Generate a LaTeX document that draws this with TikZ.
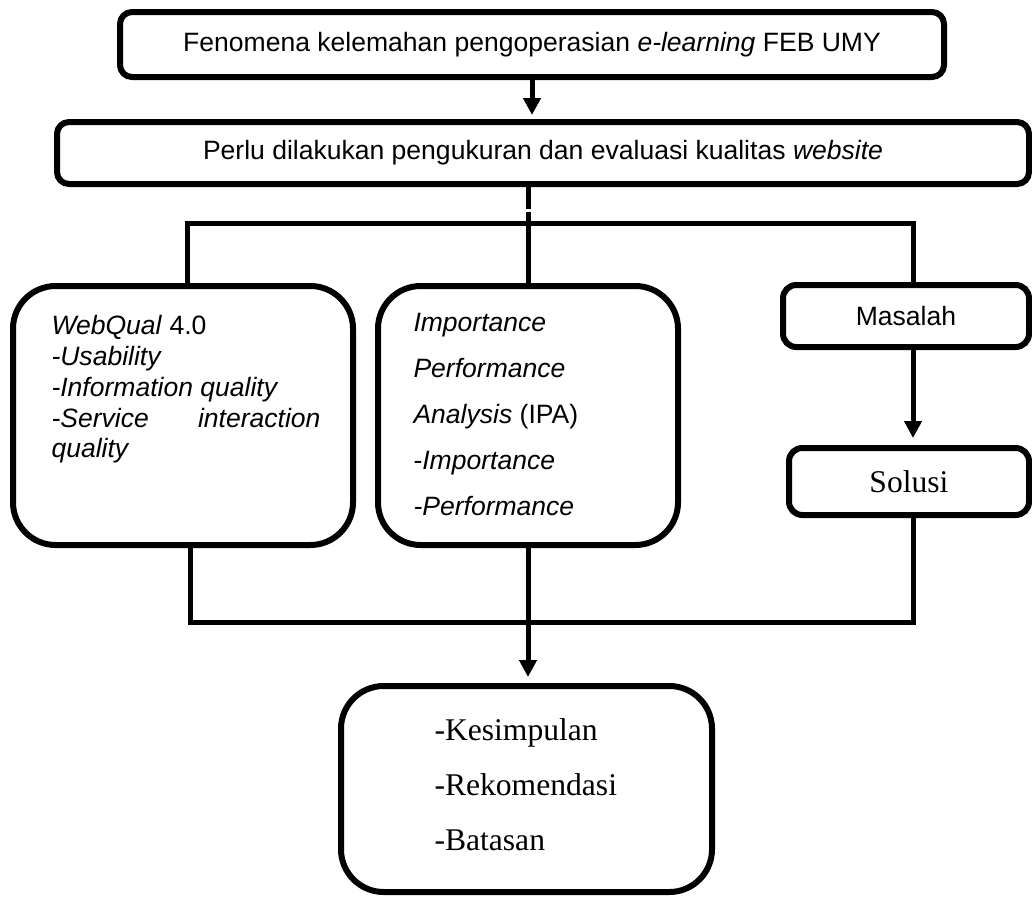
\documentclass[tikz,border=0pt]{standalone}
\usepackage{fontspec}
\setmainfont{Liberation Sans}
\newfontfamily\serifrm{Liberation Serif}
\usetikzlibrary{arrows.meta}

\newcommand{\sansbig}{\fontsize{19.9}{23.1}\selectfont}
\newcommand{\sanswide}{\fontsize{19.9}{34.5}\selectfont}
\newcommand{\serifbig}{\fontsize{23.7}{41.25}\selectfont\serifrm}

\tikzset{every picture/.style={line width=3.75pt}}
\tikzset{
  flowbox/.style={draw, line width=4.5pt, inner sep=0pt, rounded corners=9pt, align=center},
  roundbox/.style={draw, line width=4.5pt, inner sep=0pt, rounded corners=32pt},
  boxtext/.style={inner sep=0pt, anchor=north west},
  arr/.style={-{Triangle[width=12.75pt,length=12.75pt]}}
}

\begin{document}
\begin{tikzpicture}[x=0.75pt,y=0.75pt,yscale=-1,xscale=1]
	\useasboundingbox (0,0) rectangle (1032,897);

	%Shape: Rounded Rect [fenomena]
	\node [flowbox, minimum width=618pt, minimum height=48.75pt, font=\sansbig] (fenomena) at (532,44.5) {Fenomena kelemahan pengoperasian \textit{e-learning} FEB UMY};
	%Shape: Rounded Rect [ukur]
	\node [flowbox, minimum width=729pt, minimum height=46.5pt, font=\sansbig] (ukur) at (543,153) {Perlu dilakukan pengukuran dan evaluasi kualitas \textit{website}};
	%Shape: Rounded Rect [webqual]
	\node [roundbox, minimum width=255pt, minimum height=194.25pt] (webqual) at (183,415.5) {};
	%Shape: Rounded Rect [ipa]
	\node [roundbox, minimum width=225pt, minimum height=194.25pt] (ipa) at (528,415.5) {};
	%Shape: Rounded Rect [masalah]
	\node [flowbox, rounded corners=10pt, minimum width=184.5pt, minimum height=46.5pt, font=\sansbig] (masalah) at (906,316) {Masalah};
	%Shape: Rounded Rect [solusi]
	\node [flowbox, rounded corners=10pt, minimum width=180pt, minimum height=50.25pt, font=\serifbig] (solusi) at (909,481.5) {Solusi};
	%Shape: Rounded Rect [hasil]
	\node [roundbox, minimum width=278.25pt, minimum height=154.5pt] (hasil) at (526.5,789) {};

	\coordinate (busL) at (187,223);
	\coordinate (busR) at (913,223);
	\coordinate (jL) at (190,622);
	\coordinate (jR) at (913,622);

	%Straight Lines
	\draw [arr, shorten >=3pt] (fenomena.south) -- (fenomena.south |- ukur.north);
	%Straight Lines
	\draw (ukur.south -| ipa.north) -- ++(0,22);
	\draw (ipa.north |- 0,212) -- (ipa.north);
	%Straight Lines
	\draw (busL |- webqual.north) -- (busL) -- (busR) -- (busR |- masalah.north);
	%Straight Lines
	\draw [arr, shorten >=5.25pt] (masalah.south -| busR) -- (solusi.north -| busR);
	%Straight Lines
	\draw (jL |- webqual.south) -- (jL) -- (jR) -- (jR |- solusi.south);
	%Straight Lines
	\draw [arr, shorten >=4.5pt] (ipa.south) -- (ipa.south |- hasil.north);

	% Text Node
	\node [boxtext, text width=201.75pt, align=justify, font=\sansbig] (webqualtxt) at (49,313) {\textit{WebQual} 4.0\\ \textit{-Usability}\\ \textit{-Information quality}\\ \textit{-Service interaction quality}};
	% Text Node
	\node [boxtext, align=left, font=\sanswide] (ipatxt) at (411,311) {\textit{Importance}\\ \textit{Performance}\\ \textit{Analysis} (IPA)\\ -\textit{Importance}\\ \textit{-Performance}};
	% Text Node
	\node [boxtext, align=left, font=\serifbig] (hasiltxt) at (432,716) {-Kesimpulan\\ -Rekomendasi\\ -Batasan};

\end{tikzpicture}
\end{document}
